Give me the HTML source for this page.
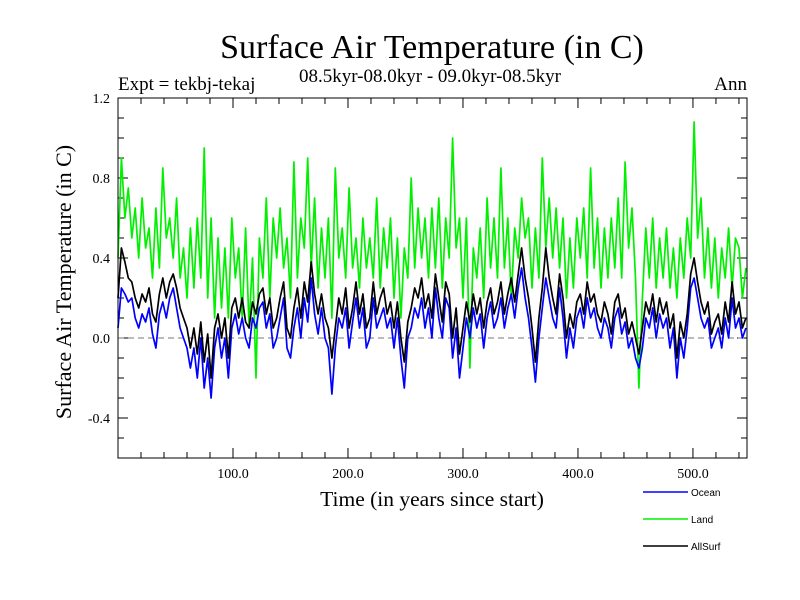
<!DOCTYPE html>
<html><head><meta charset="utf-8"><style>
body{margin:0;background:#fff}
svg{display:block}
.s{font-family:"Liberation Serif",serif}
.a{font-family:"Liberation Sans",sans-serif}
</style></head><body>
<svg id="c" width="800" height="600" xmlns="http://www.w3.org/2000/svg">
<text class="s" x="432" y="58" font-size="34" text-anchor="middle">Surface Air Temperature (in C)</text>
<text class="s" x="430" y="82" font-size="19" text-anchor="middle">08.5kyr-08.0kyr - 09.0kyr-08.5kyr</text>
<text class="s" x="118" y="90" font-size="19">Expt = tekbj-tekaj</text>
<text class="s" x="747" y="90" font-size="19" text-anchor="end">Ann</text>
<text class="s" x="0" y="0" font-size="22" text-anchor="middle" transform="translate(71,282) rotate(-90)">Surface Air Temperature (in C)</text>
<text class="s" x="432" y="506" font-size="21.5" text-anchor="middle">Time (in years since start)</text>
<g id="ticks"></g>
<g id="plot"></g>
<rect x="118" y="98" width="629" height="360" fill="none" stroke="#000" stroke-width="1"/>
<g>
<line x1="643" y1="492" x2="688" y2="492" stroke="#0000ff" stroke-width="1.5"/>
<text class="a" x="691" y="496" font-size="10">Ocean</text>
<line x1="643" y1="519" x2="688" y2="519" stroke="#00f000" stroke-width="1.5"/>
<text class="a" x="691" y="523" font-size="10">Land</text>
<line x1="643" y1="546" x2="688" y2="546" stroke="#000" stroke-width="1.5"/>
<text class="a" x="691" y="550" font-size="10">AllSurf</text>
</g>
</svg>
<script>
const yearStep = 3;
const yTickLabels = ["1.2","0.8","0.4","0.0","-0.4"];
const yTickValues = [1.2,0.8,0.4,0.0,-0.4];
const xTickLabels = ["100.0","200.0","300.0","400.0","500.0"];
const xTickValues = [100,200,300,400,500];
const ocean = [0.05,0.25,0.22,0.18,0.2,0.1,0.05,0.12,0.08,0.15,
0.02,-0.05,0.12,0.18,0.1,0.2,0.25,0.15,0.05,0.0,
-0.05,-0.15,-0.05,-0.2,0.0,-0.25,-0.1,-0.3,-0.05,0.05,
-0.1,0.0,-0.2,0.05,0.12,0.02,0.1,0.0,-0.05,0.1,
0.05,0.15,0.18,0.05,0.12,-0.05,0.0,0.1,0.2,-0.05,
-0.1,0.05,0.15,0.0,0.2,0.08,0.3,0.12,0.02,0.15,
0.0,-0.05,-0.28,-0.05,0.1,0.05,0.15,-0.05,0.08,0.2,
0.05,0.15,-0.05,0.0,0.2,0.05,0.1,0.15,0.05,0.1,
-0.05,0.1,-0.1,-0.25,0.0,0.05,0.15,0.1,0.2,0.05,
0.15,0.0,0.25,0.1,0.0,0.2,0.15,-0.1,0.05,-0.2,
-0.05,0.1,0.0,0.15,0.05,0.12,-0.05,0.1,0.18,0.05,
0.1,0.2,0.05,0.15,0.22,0.1,0.25,0.35,0.2,0.1,
-0.05,-0.22,0.0,0.15,0.3,0.2,0.1,0.05,0.25,0.1,
-0.1,0.05,-0.05,0.1,0.15,0.05,0.2,0.1,0.15,0.05,
0.0,0.1,0.05,-0.05,0.1,0.15,0.02,0.08,-0.05,0.0,
-0.1,-0.15,-0.05,0.1,0.05,0.15,0.0,0.12,0.05,0.1,
-0.05,0.05,-0.2,0.0,-0.1,0.05,0.25,0.3,0.2,0.1,
0.05,0.1,-0.05,0.0,0.05,-0.05,0.1,0.0,0.2,0.05,
0.1,0.0,0.05];
const land = [0.4,0.9,0.6,0.75,0.5,0.65,0.4,0.7,0.45,0.55,
0.3,0.65,0.35,0.85,0.5,0.6,0.4,0.7,0.3,0.45,
0.2,0.55,0.25,0.6,0.3,0.95,0.2,0.6,0.1,0.5,
0.15,0.45,0.1,0.6,0.3,0.45,0.1,0.55,0.05,0.4,
-0.2,0.5,0.3,0.7,0.2,0.6,0.4,0.65,0.35,0.5,
0.2,0.88,0.3,0.6,0.45,0.9,0.35,0.7,0.25,0.55,
0.3,0.6,0.1,0.85,0.4,0.55,0.3,0.75,0.35,0.5,
0.25,0.6,0.35,0.5,0.3,0.7,0.25,0.55,0.35,0.6,
0.2,0.5,0.1,0.45,0.3,0.8,0.35,0.65,0.4,0.6,
0.3,0.65,0.35,0.7,0.25,0.6,0.4,1.0,0.45,0.6,
0.2,0.6,-0.15,0.45,0.3,0.55,0.2,0.7,0.35,0.6,
0.3,0.85,0.35,0.6,0.2,0.55,0.4,0.7,0.5,0.6,
0.25,0.55,0.3,0.9,0.45,0.7,0.4,0.65,0.35,0.6,
0.2,0.5,0.25,0.6,0.4,0.65,0.3,0.85,0.35,0.6,
0.25,0.55,0.3,0.6,0.35,0.7,0.3,0.88,0.45,0.65,
0.3,-0.25,0.2,0.55,0.3,0.6,0.25,0.5,0.3,0.55,
0.25,0.45,0.2,0.5,0.3,0.6,0.4,1.08,0.5,0.7,
0.3,0.55,0.25,0.5,0.2,0.45,0.3,0.55,0.25,0.5,
0.45,0.2,0.35];
const allSurf = [0.2,0.45,0.38,0.3,0.28,0.2,0.15,0.22,0.18,0.25,
0.12,0.08,0.22,0.3,0.2,0.28,0.32,0.25,0.15,0.1,
0.05,-0.05,0.05,-0.08,0.08,-0.12,0.02,-0.2,0.05,0.12,
0.0,0.1,-0.1,0.15,0.2,0.1,0.2,0.08,0.05,0.18,
0.12,0.22,0.25,0.12,0.2,0.05,0.1,0.2,0.28,0.05,
0.0,0.15,0.25,0.1,0.28,0.18,0.38,0.22,0.12,0.22,
0.1,0.05,-0.1,0.05,0.2,0.12,0.25,0.05,0.15,0.28,
0.12,0.22,0.05,0.1,0.28,0.12,0.2,0.25,0.12,0.18,
0.05,0.18,0.0,-0.12,0.08,0.15,0.25,0.2,0.3,0.15,
0.22,0.1,0.32,0.2,0.08,0.28,0.22,0.0,0.15,-0.08,
0.05,0.18,0.08,0.22,0.12,0.2,0.05,0.18,0.25,0.12,
0.18,0.28,0.12,0.22,0.3,0.18,0.32,0.45,0.3,0.2,
0.05,-0.12,0.1,0.25,0.45,0.3,0.2,0.12,0.32,0.2,
0.0,0.12,0.05,0.18,0.22,0.12,0.28,0.18,0.22,0.12,
0.08,0.18,0.12,0.02,0.18,0.22,0.1,0.15,0.02,0.08,
0.0,-0.08,0.05,0.18,0.12,0.22,0.08,0.2,0.12,0.18,
0.05,0.12,-0.1,0.08,0.0,0.12,0.32,0.4,0.28,0.18,
0.12,0.18,0.02,0.08,0.12,0.02,0.18,0.08,0.28,0.12,
0.18,0.05,0.1];

const NS="http://www.w3.org/2000/svg";
const X0=118,X1=747,XMAX=547,Y0=458,YMIN=-0.6,YMAX=1.2;
function sx(v){return X0+(v/XMAX)*(X1-X0);}
function sy(v){return Y0-(v-YMIN)/(YMAX-YMIN)*(Y0-98);}
function mk(tag,attrs,parent){const e=document.createElementNS(NS,tag);for(const k in attrs)e.setAttribute(k,attrs[k]);parent.appendChild(e);return e;}
const tg=document.getElementById('ticks');
const pg=document.getElementById('plot');
for(let i=-6;i<=12;i++){
  const y=sy(i/10),len=(i%4===0)?10:6;
  let t=mk('line',{x1:X0,x2:X0+len,y1:y,y2:y,stroke:'#000'},tg);
  
  
  t=mk('line',{x1:X1,x2:X1-len,y1:y,y2:y,stroke:'#000'},tg);
  
  
}
for(let i=0;i<=540;i+=20){
  const x=sx(i),len=(i%100===0)?10:6;
  let t=mk('line',{x1:x,x2:x,y1:Y0,y2:Y0-len,stroke:'#000'},tg);
  
  
  t=mk('line',{x1:x,x2:x,y1:98,y2:98+len,stroke:'#000'},tg);
  
  
}
yTickValues.forEach((v,i)=>{
  const t=mk('text',{x:110,y:sy(v)+5,'font-size':14,'text-anchor':'end','class':'s'},tg);
  t.textContent=yTickLabels[i];
  
  
});
xTickValues.forEach((v,i)=>{
  const t=mk('text',{x:sx(v),y:478,'font-size':14,'text-anchor':'middle','class':'s'},tg);
  t.textContent=xTickLabels[i];
  
  
});
const z=mk('line',{x1:X0,x2:X1,y1:sy(0),y2:sy(0),stroke:'#777','stroke-dasharray':'6,4'},pg);


function series(arr,color,name){
  const pts=arr.map((v,i)=>sx(i*yearStep).toFixed(1)+','+sy(v).toFixed(1)).join(' ');
  const p=mk('polyline',{points:pts,fill:'none',stroke:color,'stroke-width':1.7,'stroke-linejoin':'round'},pg);
  
  
}
series(land,'#00f000','land-line');
series(ocean,'#0000ff','ocean-line');
series(allSurf,'#000000','allsurf-line');
</script>
</body></html>
